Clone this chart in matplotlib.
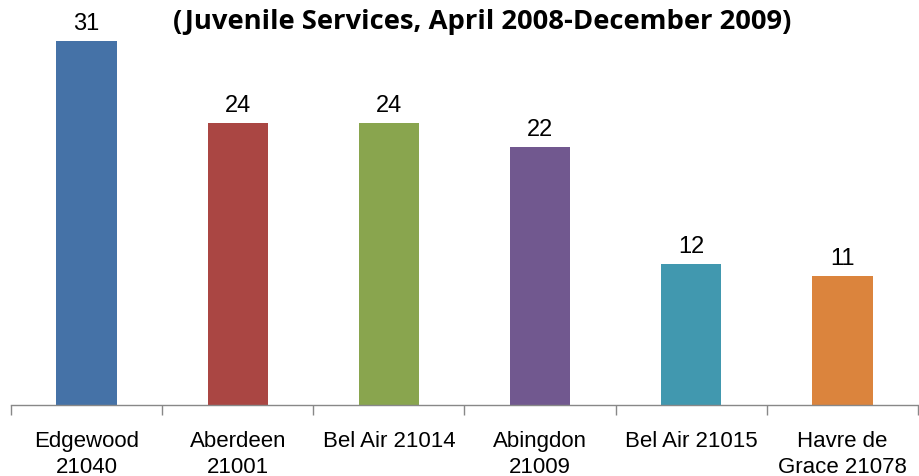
import numpy as np
import matplotlib
matplotlib.use("Agg")
import matplotlib.pyplot as plt

# data
labels = ["Edgewood\n21040", "Aberdeen\n21001", "Bel Air 21014", "Abingdon\n21009",
          "Bel Air 21015", "Havre de\nGrace 21078"]
counts = [31, 24, 24, 22, 12, 11]
colors = ["#4572A7", "#AA4643", "#89A54E", "#71588F", "#4198AF", "#DB843D"]

plt.rcParams['font.family'] = ['Liberation Sans', 'DejaVu Sans']

fig = plt.figure(figsize=(9.19, 4.76), dpi=100)
ax = fig.add_axes([11/919, 71/476, 907/919, 405/476])

x = np.arange(len(counts))
bars = ax.bar(x, counts, width=0.4, color=colors, zorder=2)
for b, v in zip(bars, counts):
    ax.text(b.get_x() + b.get_width()/2, v + 0.5, str(v), ha="center", va="bottom",
            fontsize=17, color="#000000")

ax.set_xlim(-0.5, len(counts) - 0.5)
ax.set_ylim(0, 405/11.74)

for s in ["top", "right", "left"]:
    ax.spines[s].set_visible(False)
ax.spines["bottom"].set_color("#888888")
ax.spines["bottom"].set_linewidth(1)
ax.set_yticks([])

ax.set_xticks(x)
ax.set_xticklabels(labels, fontsize=16, linespacing=1.3)
ax.tick_params(axis="x", length=0, pad=19)
ax.set_xticks(np.arange(-0.5, len(counts)), minor=True)
ax.tick_params(axis="x", which="minor", length=7, color="#888888", width=1)

fig.text(0.525, 0.954, "(Juvenile Services, April 2008-December 2009)", ha="center", va="center",
         fontsize=19.7, fontweight="bold", family=["Open Sans", "DejaVu Sans"])

fig.savefig("out.png", dpi=100)
